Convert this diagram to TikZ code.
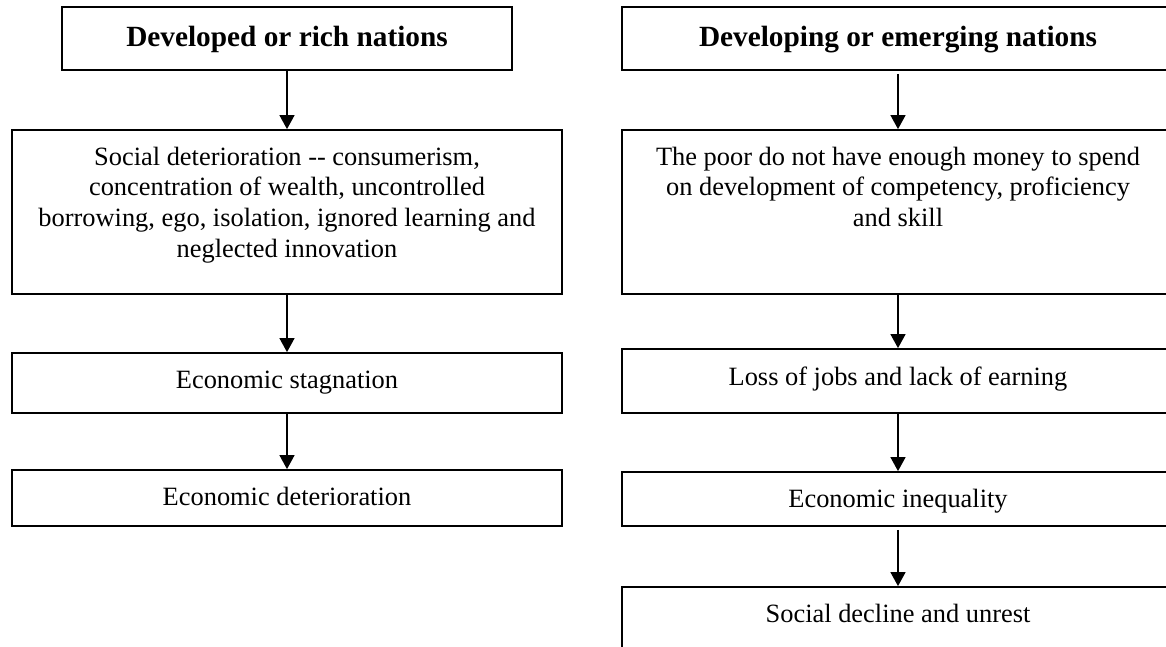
\documentclass[tikz,border=0pt]{standalone}
\usepackage{fontspec}
\setmainfont{Liberation Serif}
\usetikzlibrary{arrows.meta}
\begin{document}
\begin{tikzpicture}[x=1pt,y=-1pt,
  box/.style={draw=black, line width=1.8pt, rectangle, inner sep=0pt, minimum width=#1},
  txt/.style={anchor=base, inner sep=0pt, align=center,
              font=\fontsize{26.4pt}{30.7pt}\selectfont},
  ttl/.style={anchor=base, inner sep=0pt,
              font=\fontsize{29.3pt}{33pt}\selectfont\bfseries},
  flow/.style={-{Triangle[length=14pt,width=15pt]}, line width=1.3pt}]

% page frame
\useasboundingbox (0,0) rectangle (1166,646);
\clip (0,0) rectangle (1166,646);
\fill[white] (0,0) rectangle (1166,646);

% left column: developed nations
\node[box=450, minimum height=63]  (devd) at (287,38.5) {};
\node[box=550, minimum height=164] (soc)  at (287,212)  {};
\node[box=550, minimum height=60]  (stag) at (287,383)  {};
\node[box=550, minimum height=56]  (det)  at (287,498)  {};

\node[ttl] (devdT) at (287,46) {Developed or rich nations};
\node[txt] (socT) at (287,165) {\begin{tabular}[t]{@{}c@{}}
  Social deterioration -{}- consumerism,\\
  concentration of wealth, uncontrolled\\
  borrowing, ego, isolation, ignored learning and\\
  neglected innovation\end{tabular}};
\node[txt] (stagT) at (287,388) {Economic stagnation};
\node[txt] (detT)  at (287,505) {Economic deterioration};

% right column: developing nations
\node[box=552, minimum height=63]  (ding)   at (898,38.5) {};
\node[box=552, minimum height=164] (poor)   at (898,212)  {};
\node[box=552, minimum height=64]  (loss)   at (898,381)  {};
\node[box=552, minimum height=54]  (ineq)   at (898,499)  {};
\node[box=552, minimum height=133] (unrest) at (898,653.5) {};

\node[ttl] (dingT) at (898,46) {Developing or emerging nations};
\node[txt] (poorT) at (898,165) {\begin{tabular}[t]{@{}c@{}}
  The poor do not have enough money to spend\\
  on development of competency, proficiency\\
  and skill\end{tabular}};
\node[txt] (lossT)   at (898,385) {Loss of jobs and lack of earning};
\node[txt] (ineqT)   at (898,507) {Economic inequality};
\node[txt] (unrestT) at (898,622) {Social decline and unrest};

% connectors
\draw[flow] (devd) -- (soc);
\draw[flow] (soc) -- (stag);
\draw[flow] (stag) -- (det);
\draw[flow, shorten <=3pt] (ding) -- (poor);
\draw[flow] (poor) -- (loss);
\draw[flow] (loss) -- (ineq);
\draw[flow, shorten <=3pt] (ineq) -- (unrest);
\end{tikzpicture}
\end{document}
